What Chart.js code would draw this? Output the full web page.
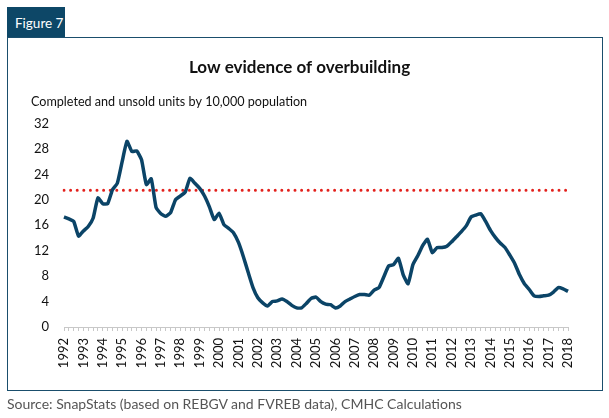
<!DOCTYPE html>
<html>
<head>
<meta charset="utf-8">
<script src="https://cdn.jsdelivr.net/npm/chart.js@4.4.1/dist/chart.umd.min.js"></script>
<style>
  body { margin: 0; background: #fff; font-family: Lato, "Open Sans", sans-serif; }
  #wrap { position: relative; width: 609px; height: 418px; overflow: hidden; }
  #tab { position: absolute; left: 7px; top: 7px; width: 58px; height: 31px; background: #0d4767;
         color: #fff; font-size: 13.5px; line-height: 33px; padding-left: 8px; box-sizing: border-box; }
  #frame { position: absolute; left: 7px; top: 37px; width: 596px; height: 354px; border: 1.5px solid #1a4e6c;
           box-sizing: border-box; }
  #source { position: absolute; left: 7px; top: 395px; font-size: 14px; color: #555; }
  canvas { position: absolute; left: 0; top: 0; }
</style>
</head>
<body>
<div id="wrap">
  <div id="tab">Figure 7</div>
  <div id="frame"></div>
  <canvas id="chart" width="609" height="418"></canvas>
  <div id="source">Source: SnapStats (based on REBGV and FVREB data), CMHC Calculations</div>
</div>
<script>
// Years shown on the axis, data is quarterly from 1992 Q1 to 2018 Q1
const years = [1992, 1993, 1994, 1995, 1996, 1997, 1998, 1999, 2000, 2001, 2002, 2003, 2004,
  2005, 2006, 2007, 2008, 2009, 2010, 2011, 2012, 2013, 2014, 2015, 2016, 2017, 2018];

// Completed and unsold units per 10,000 population
const unsold = [
  17.3, 17.0, 16.6, 14.3, 15.1, 15.8, 17.1, 20.3, 19.4, 19.4, // 1992-1994
  21.6, 22.6, 26.0, 29.2, 27.6, 27.7, 26.3, 22.4, 23.3, 18.8, // 1994-1996
  17.8, 17.4, 18.0, 20.0, 20.6, 21.2, 23.4, 22.6, 21.8, 20.6, // 1997-1999
  18.9, 16.9, 17.9, 16.1, 15.5, 14.8, 13.3, 11.1, 8.6, 6.2,   // 1999-2001
  4.6, 3.8, 3.3, 4.0, 4.1, 4.4, 4.0, 3.4, 3.0, 3.0,           // 2002-2004
  3.7, 4.5, 4.7, 4.0, 3.6, 3.5, 3.0, 3.3, 4.0, 4.4,           // 2004-2006
  4.8, 5.1, 5.1, 5.0, 5.8, 6.2, 7.9, 9.6, 9.8, 10.8,          // 2007-2009
  8.2, 6.8, 9.8, 11.2, 12.8, 13.8, 11.7, 12.5, 12.5, 12.7,    // 2009-2011
  13.4, 14.2, 15.0, 15.9, 17.3, 17.6, 17.8, 16.6, 15.2, 14.1, // 2012-2014
  13.2, 12.5, 11.3, 10.0, 8.2, 6.8, 5.9, 4.9, 4.8, 4.9,       // 2014-2016
  5.0, 5.5, 6.2, 6.0, 5.6                                     // 2017-2018
];

// Reference level (red dotted line)
const threshold = 21.5;

const yTicks = [0, 4, 8, 12, 16, 20, 24, 28, 32];

// quarter labels
const quarters = [];
years.forEach(y => {
  for (let q = 1; q <= 4; q++) {
    if (quarters.length < unsold.length) quarters.push(y + ' Q' + q);
  }
});

const ctx = document.getElementById('chart').getContext('2d');
const chart = new Chart(ctx, {
  type: 'line',
  data: {
    labels: quarters,
    datasets: [{
      label: 'Completed and unsold units',
      data: unsold,
      borderColor: '#0b4467',
      borderWidth: 3.5,
      borderJoinStyle: 'round',
      pointRadius: 0,
      tension: 0.15,
      fill: false
    }, {
      label: 'Reference',
      data: quarters.map(() => threshold),
      borderColor: '#e3211c',
      borderWidth: 3,
      borderDash: [0, 6.6],
      borderCapStyle: 'round',
      pointRadius: 0,
      fill: false
    }]
  },
  options: {
    responsive: false,
    animation: false,
    layout: { padding: { left: 31, right: 41, top: 57, bottom: 46 } },
    scales: {
      x: {
        grid: { drawOnChartArea: false, drawTicks: true, tickLength: 4, color: '#c8c8c8' },
        border: { display: true, color: '#c8c8c8' },
        ticks: {
          autoSkip: false,
          maxRotation: 90,
          minRotation: 90,
          padding: 7,
          color: '#111',
          font: { family: 'Lato', size: 13 },
          callback: (v, i) => (i % 4 === 0 ? String(years[i / 4]) : '')
        },
        afterFit: s => { s.height = 45; }
      },
      y: {
        min: 0,
        max: 32,
        grid: { display: false, drawTicks: false },
        border: { display: false },
        afterBuildTicks: s => { s.ticks = yTicks.map(v => ({ value: v })); },
        ticks: { padding: 15, color: '#111', font: { family: 'Lato', size: 13 } },
        afterFit: s => { s.width = 33; }
      }
    },
    plugins: {
      legend: { display: false },
      tooltip: { enabled: false },
      title: {
        display: true,
        text: 'Low evidence of overbuilding',
        color: '#111',
        font: { family: 'Lato', size: 17, weight: 'bold' },
        padding: { top: 0, bottom: 0 }
      },
      subtitle: {
        display: true,
        text: 'Completed and unsold units by 10,000 population',
        align: 'start',
        color: '#111',
        font: { family: 'Lato', size: 12.6 },
        padding: { top: 17, bottom: 14 }
      }
    }
  }
});
</script>
</body>
</html>
